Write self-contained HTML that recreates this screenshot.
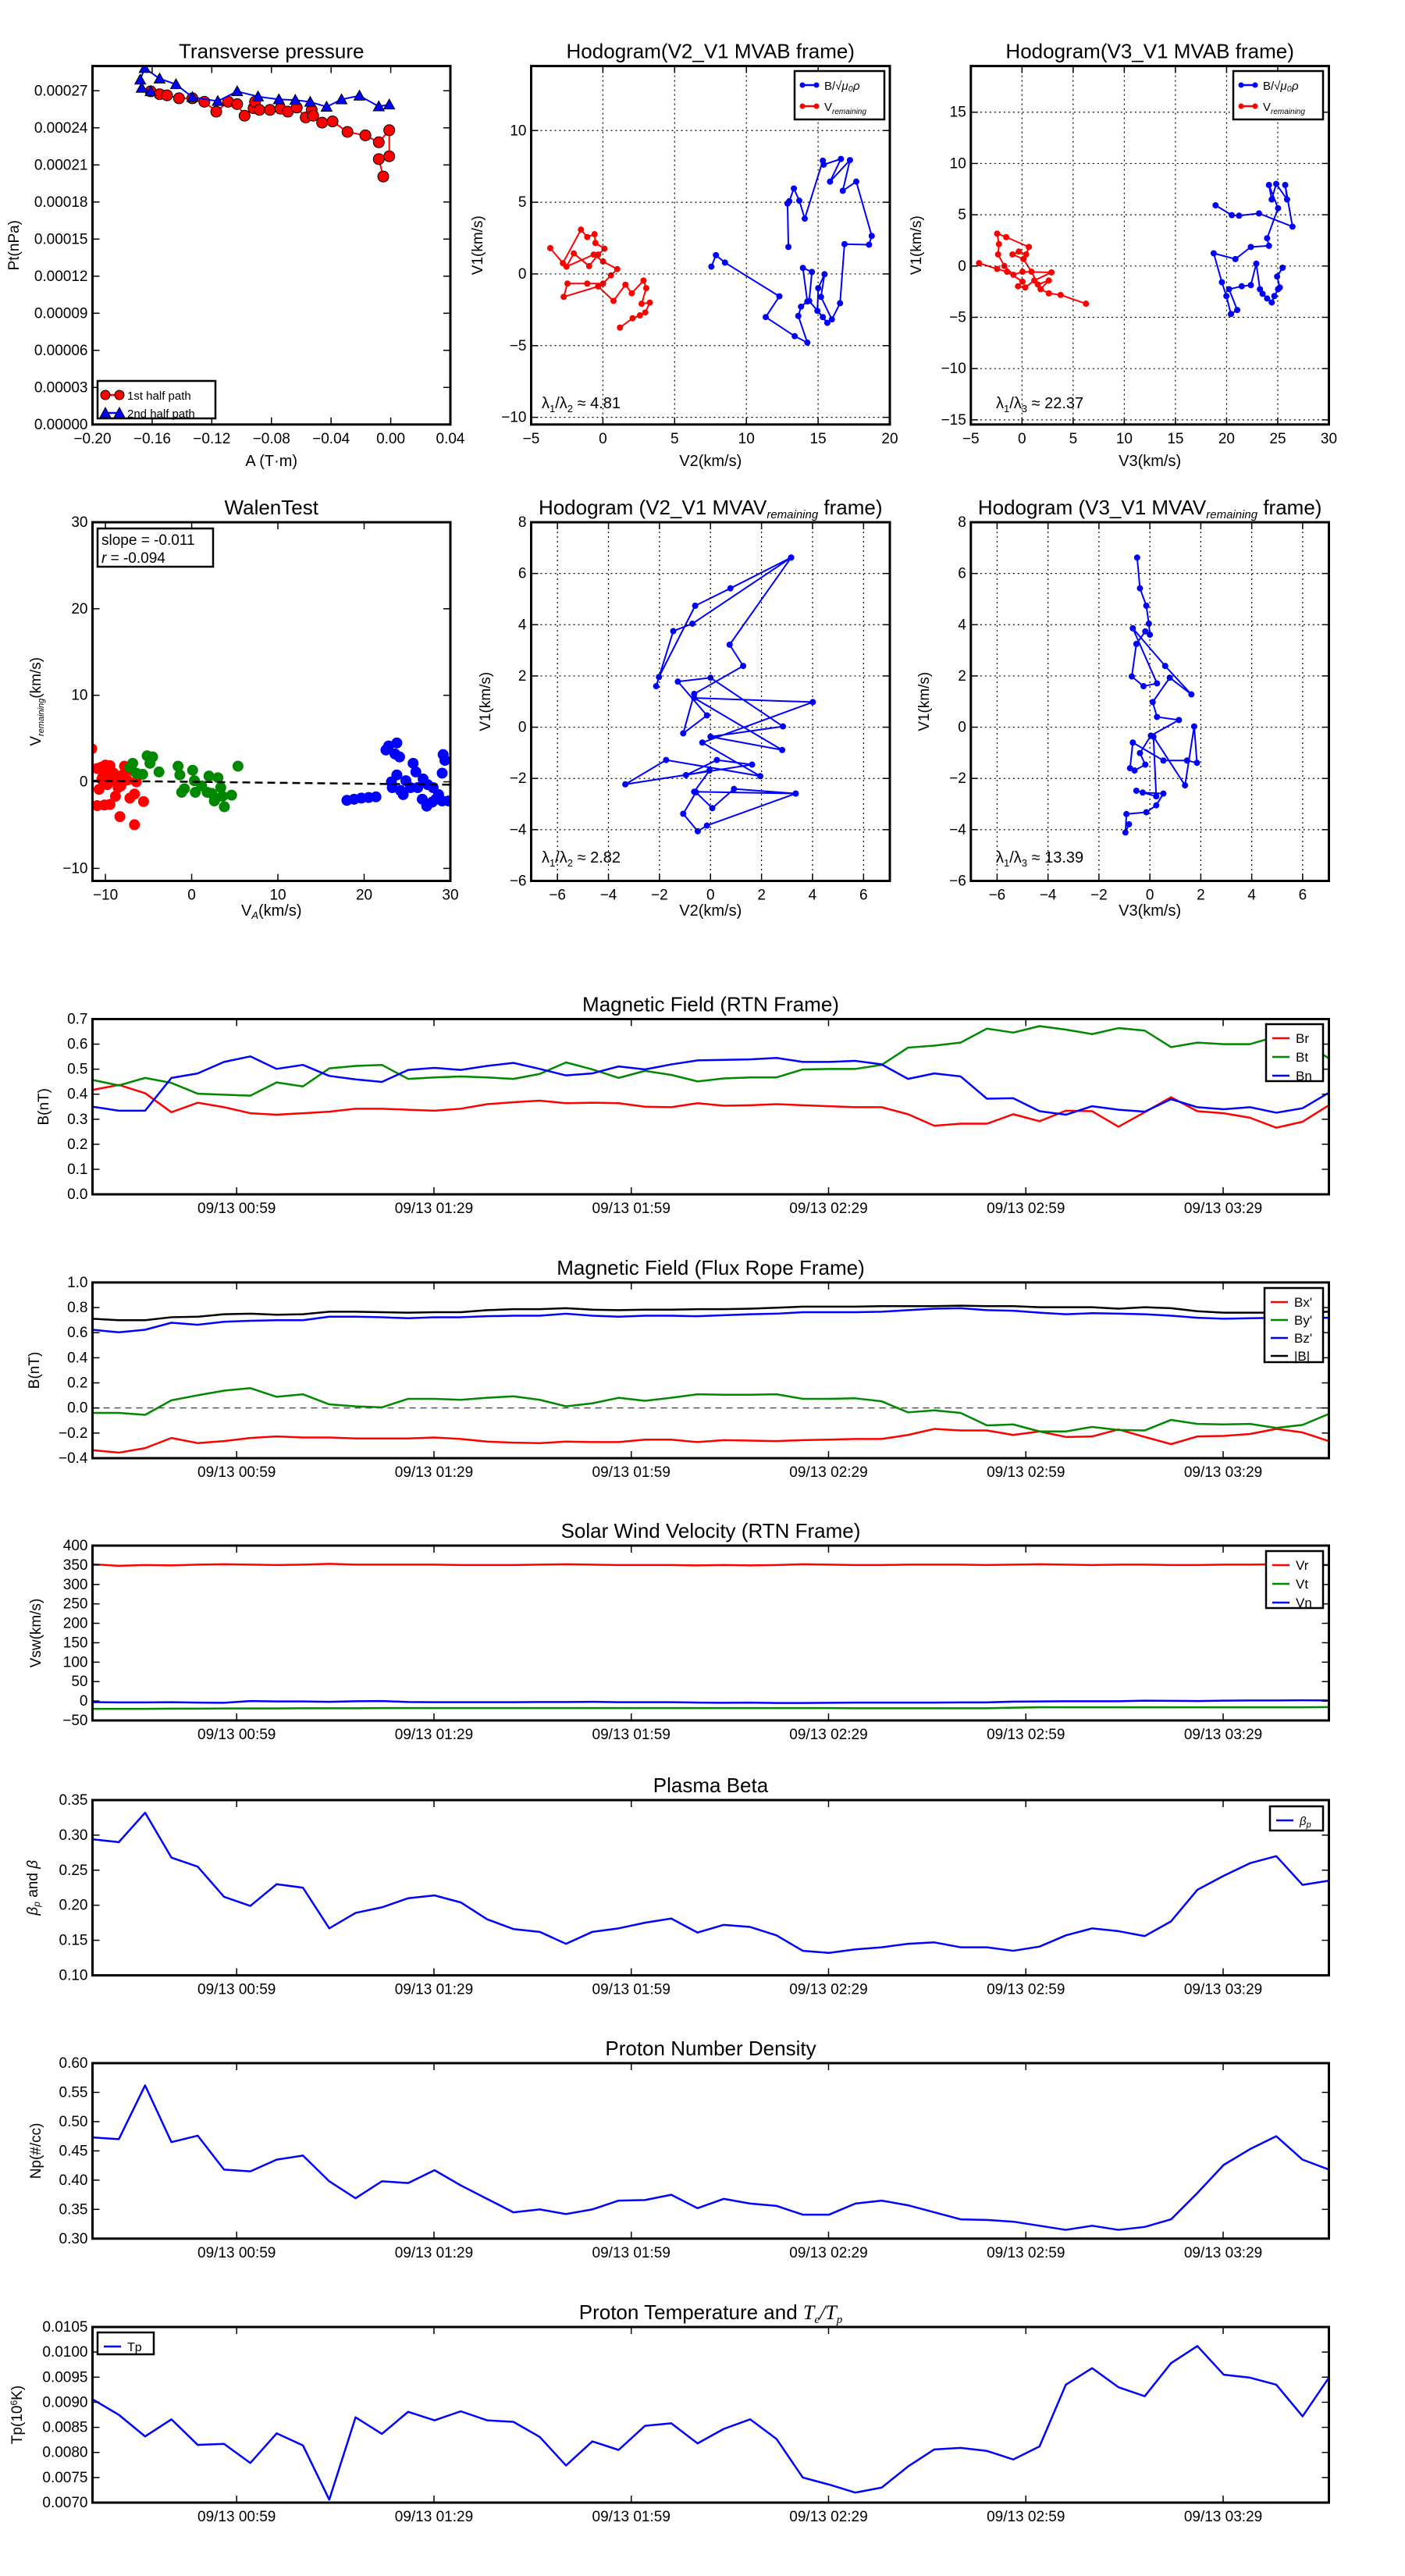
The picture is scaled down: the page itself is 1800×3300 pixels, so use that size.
<!DOCTYPE html>
<html><head><meta charset="utf-8">
<style>
html,body{margin:0;padding:0;background:#fff;}
svg{display:block;font-family:"Liberation Sans","DejaVu Sans",sans-serif;}
text{fill:#000;}
</style></head>
<body>
<svg id="fig" width="1800" height="3300" viewBox="0 0 1800 3300" xmlns="http://www.w3.org/2000/svg">
<rect x="0" y="0" width="1800" height="3300" fill="#fff"/>
</svg>
<script>
// ---------- data ----------
const timeTickLabels = ["09/13 00:59","09/13 01:29","09/13 01:59","09/13 02:29","09/13 02:59","09/13 03:29"];
const timeTickIdx = [5.48,12.98,20.48,27.98,35.48,42.98];

const br = [0.417,0.437,0.404,0.328,0.366,0.348,0.324,0.318,0.324,0.330,0.342,0.342,0.338,0.334,0.342,0.360,0.368,0.374,0.364,0.366,0.364,0.350,0.348,0.364,0.354,0.356,0.360,0.356,0.352,0.348,0.348,0.320,0.274,0.282,0.282,0.320,0.292,0.334,0.332,0.270,0.328,0.388,0.332,0.324,0.306,0.266,0.290,0.356];
const bt = [0.457,0.435,0.465,0.445,0.402,0.398,0.394,0.447,0.431,0.503,0.513,0.517,0.461,0.467,0.471,0.467,0.461,0.481,0.527,0.499,0.465,0.493,0.477,0.451,0.463,0.467,0.467,0.499,0.501,0.501,0.517,0.586,0.594,0.606,0.662,0.646,0.672,0.658,0.640,0.664,0.654,0.588,0.606,0.600,0.600,0.630,0.610,0.543];
const bn = [0.350,0.334,0.334,0.465,0.483,0.529,0.551,0.501,0.517,0.473,0.459,0.449,0.497,0.505,0.497,0.513,0.525,0.501,0.475,0.483,0.511,0.499,0.519,0.535,0.537,0.539,0.545,0.529,0.529,0.533,0.519,0.461,0.483,0.471,0.382,0.384,0.332,0.318,0.352,0.338,0.330,0.380,0.348,0.340,0.348,0.326,0.344,0.406];

const bxp = [-0.336,-0.356,-0.320,-0.239,-0.280,-0.264,-0.239,-0.227,-0.235,-0.235,-0.243,-0.243,-0.243,-0.235,-0.247,-0.268,-0.276,-0.280,-0.268,-0.272,-0.272,-0.252,-0.252,-0.272,-0.256,-0.260,-0.264,-0.256,-0.252,-0.247,-0.247,-0.215,-0.167,-0.179,-0.179,-0.215,-0.187,-0.231,-0.227,-0.171,-0.231,-0.288,-0.227,-0.223,-0.207,-0.167,-0.195,-0.264];
const byp = [-0.039,-0.039,-0.055,0.061,0.101,0.138,0.158,0.089,0.109,0.029,0.013,0.005,0.073,0.073,0.065,0.081,0.093,0.065,0.013,0.037,0.081,0.057,0.081,0.109,0.105,0.105,0.109,0.073,0.073,0.077,0.053,-0.035,-0.019,-0.039,-0.139,-0.131,-0.187,-0.187,-0.151,-0.175,-0.179,-0.095,-0.127,-0.131,-0.127,-0.159,-0.135,-0.047];
const bzp = [0.623,0.603,0.623,0.679,0.663,0.687,0.695,0.699,0.699,0.727,0.727,0.723,0.715,0.723,0.723,0.731,0.735,0.735,0.751,0.735,0.727,0.735,0.735,0.731,0.739,0.747,0.751,0.763,0.763,0.763,0.767,0.779,0.791,0.795,0.779,0.775,0.759,0.747,0.755,0.751,0.747,0.735,0.719,0.711,0.715,0.719,0.719,0.719];
const bmag = [0.711,0.699,0.699,0.723,0.727,0.747,0.751,0.743,0.747,0.767,0.767,0.763,0.759,0.763,0.763,0.779,0.787,0.787,0.795,0.783,0.779,0.783,0.783,0.787,0.787,0.791,0.799,0.807,0.807,0.807,0.811,0.811,0.811,0.815,0.811,0.811,0.803,0.803,0.803,0.791,0.803,0.795,0.771,0.759,0.759,0.759,0.759,0.767];

const vr = [352,348,350,349,351,352,351,350,351,353,351,351,351,351,350,350,350,351,352,351,350,350,350,349,350,349,350,352,351,350,350,351,351,351,350,351,352,351,350,351,351,350,350,351,351,352,351,350];
const vt = [-20,-20,-20,-19.5,-19.5,-19,-19,-19,-18.5,-18.5,-18.5,-18,-18,-18,-18,-18,-18,-18,-18,-18,-18,-18,-18,-18,-18,-18,-18,-18,-18,-18.5,-18.5,-18.5,-18.5,-18.5,-18.5,-17,-16,-16,-16,-16,-16,-16,-16,-16,-16,-16,-16,-15.5];
const vn = [-3,-3.5,-3.5,-3,-4,-4.5,0,-1,-1,-2,-0.5,0,-2.5,-3,-3,-3,-3,-2.5,-2.5,-2,-3,-3,-3,-4,-4.5,-4,-5,-5,-4.5,-4,-4,-4,-4,-3.5,-3.5,-1.5,-1,-0.5,-0.5,-0.5,1,0.5,0,1,1.5,1.5,2,1.5];

const betaP = [0.294,0.290,0.332,0.268,0.255,0.212,0.199,0.230,0.225,0.167,0.189,0.197,0.210,0.214,0.204,0.180,0.166,0.162,0.145,0.162,0.167,0.175,0.181,0.161,0.172,0.169,0.157,0.135,0.132,0.137,0.140,0.145,0.147,0.140,0.140,0.135,0.141,0.157,0.167,0.163,0.156,0.177,0.222,0.242,0.260,0.270,0.229,0.235];
const np = [0.473,0.470,0.562,0.465,0.476,0.418,0.415,0.435,0.442,0.398,0.369,0.398,0.395,0.417,0.391,0.368,0.345,0.350,0.342,0.350,0.365,0.366,0.375,0.352,0.368,0.360,0.356,0.341,0.341,0.360,0.365,0.357,0.345,0.333,0.332,0.329,0.322,0.315,0.322,0.315,0.320,0.333,0.378,0.426,0.453,0.475,0.435,0.418];
const tp = [0.00906,0.00875,0.00832,0.00866,0.00815,0.00817,0.00779,0.00838,0.00814,0.00706,0.00870,0.00837,0.00881,0.00864,0.00882,0.00864,0.00861,0.00831,0.00774,0.00822,0.00805,0.00853,0.00858,0.00818,0.00847,0.00866,0.00827,0.00750,0.00736,0.00720,0.00730,0.00772,0.00806,0.00809,0.00803,0.00786,0.00812,0.00935,0.00968,0.00930,0.00912,0.00978,0.01012,0.00955,0.00949,0.00935,0.00872,0.00949];

// Transverse pressure
const ptA1 = [-0.161,-0.155,-0.150,-0.142,-0.133,-0.125,-0.117,-0.109,-0.103,-0.098,-0.092,-0.091,-0.088,-0.081,-0.074,-0.069,-0.063,-0.057,-0.053,-0.052,-0.046,-0.039,-0.029,-0.017,-0.008,-0.001,-0.001,-0.008,-0.005];
const ptP1 = [0.0002695,0.0002672,0.0002663,0.0002639,0.0002639,0.0002611,0.0002531,0.0002611,0.0002592,0.0002498,0.0002559,0.0002611,0.0002545,0.0002545,0.0002555,0.0002531,0.0002564,0.0002484,0.0002545,0.0002498,0.0002442,0.0002452,0.0002367,0.0002339,0.0002283,0.0002381,0.0002170,0.0002147,0.0002006];
const ptA2 = [-0.001,-0.008,-0.021,-0.033,-0.043,-0.054,-0.064,-0.075,-0.089,-0.103,-0.116,-0.133,-0.144,-0.155,-0.165,-0.168,-0.167,-0.161];
const ptP2 = [0.0002588,0.0002573,0.000266,0.000263,0.000257,0.000261,0.0002625,0.000263,0.0002653,0.0002695,0.0002616,0.0002648,0.0002752,0.0002798,0.0002883,0.0002789,0.0002723,0.0002695];

// Hodogram V2_V1 MVAB
const h1bV2 = [7.56,7.88,8.51,12.30,11.35,13.37,14.25,13.62,13.81,14.25,13.94,14.57,14.38,15.33,15.64,14.95,15.01,15.45,15.20,15.96,16.53,16.84,18.55,18.74,17.66,16.72,17.22,15.83,16.59,15.39,15.33,14.07,13.69,13.31,12.99,12.87,12.93];
const h1bV1 = [0.51,1.31,0.79,-1.56,-3.01,-4.34,-4.79,-2.93,-2.28,-1.92,0.42,0.14,-1.88,-3.01,-3.41,-2.57,-0.99,-0.02,-1.60,-3.17,-2.04,2.08,2.04,2.65,6.44,5.80,7.94,6.44,8.02,7.62,7.90,3.86,5.11,5.96,5.07,4.91,1.88];
const h1rV2 = [-3.67,-2.79,-1.53,-1.09,-0.58,-0.52,0.11,-0.33,-0.96,-2.03,-2.54,-0.64,0.01,1.00,0.56,0.01,-1.09,-2.47,-2.73,-0.33,0.74,1.57,2.01,2.83,3.02,2.70,3.27,2.95,2.58,2.07,1.19];
const h1rV1 = [1.80,0.75,3.09,2.57,2.77,2.16,1.76,1.35,0.55,1.43,0.51,1.35,0.87,0.34,-0.10,-0.67,-0.67,-0.67,-1.60,-0.87,-1.88,-0.75,-1.35,-0.46,-0.99,-2.08,-2.00,-2.69,-2.89,-3.09,-3.74];

// Hodogram V3_V1 MVAB
const h2bV3 = [18.92,20.51,21.22,23.17,26.44,25.73,25.91,24.85,24.41,24.14,25.03,23.96,24.14,22.37,20.86,18.74,19.54,19.98,20.42,21.04,20.24,21.48,22.37,22.90,23.26,23.52,23.96,24.41,24.67,25.03,25.20,24.94,25.47];
const h2bV1 = [5.92,4.96,4.91,5.13,3.84,7.90,6.49,8.01,6.49,7.90,5.64,2.71,1.97,1.86,0.68,1.24,-1.58,-2.93,-4.68,-4.29,-2.26,-1.97,-1.86,0.23,-2.26,-2.71,-3.16,-3.55,-2.93,-2.26,-2.09,-1.02,-0.17];
const h2rV3 = [-4.20,-2.43,-1.46,0.05,-0.39,0.31,1.20,2.88,0.05,-0.84,-1.72,-2.34,-2.25,-2.43,-1.55,0.67,0.40,-0.31,-0.93,0.14,0.93,1.55,2.62,1.82,2.62,3.77,6.25];
const h2rV1 = [0.28,-0.28,-0.56,-1.52,-1.97,-2.09,-1.41,-0.62,-0.56,-0.85,0.00,1.13,2.14,3.16,2.82,1.86,1.13,1.41,1.13,0.68,-0.56,-1.80,-1.41,-2.26,-2.66,-2.82,-3.67];

// Walen test
const walRedVA = [-11.58,-10.95,-10.53,-10.0,-9.47,-9.05,-10.74,-10.42,-9.79,-9.58,-8.74,-8.21,-10.95,-10.11,-9.47,-8.84,-8.32,-8.0,-7.47,-7.16,-6.63,-6.63,-6.42,-5.58,-6.95,-7.79,-10.32,-9.16,-8.53,-9.89];
const walRedV = [3.82,1.54,1.67,1.94,1.87,1.00,-0.87,0.27,-0.33,0.67,0.67,-0.47,-2.75,-2.68,-2.61,-1.67,-4.02,0.80,0.20,-1.88,-1.41,-4.96,0.0,-2.28,1.34,1.81,0.54,0.13,-0.67,1.34];
const walGreenVA = [-7.16,-6.42,-5.68,-5.16,-4.53,-4.84,-3.79,-6.84,-1.58,-1.37,-1.16,0.11,0.32,1.16,2.0,2.32,2.63,3.05,3.37,3.79,3.58,4.63,5.37,0.42,-0.84,1.79,2.84];
const walGreenV = [1.67,1.0,0.87,3.01,2.88,2.14,1.14,2.14,1.81,0.80,-1.21,1.34,0.13,-0.47,0.67,-1.34,-2.21,0.47,-0.67,-2.88,-1.67,-1.54,1.81,-1.21,-0.80,-1.21,-1.88];
const walBlueVA = [18.0,18.84,19.68,20.53,21.37,22.84,23.79,23.58,24.11,22.53,23.16,23.79,24.21,24.84,25.68,26.21,26.74,27.26,27.89,28.32,29.05,29.79,29.16,29.37,29.05,26.84,27.37,28.0,28.63,25.37,24.53,23.26,26.0];
const walBlueV = [-2.14,-2.01,-1.88,-1.81,-1.74,4.15,4.49,3.22,2.88,3.68,0.0,0.80,-1.0,0.13,2.14,-0.67,-2.01,-2.81,-2.34,-2.01,-2.21,-2.21,3.15,2.48,1.0,0.33,-0.33,-0.67,-1.47,-0.67,-1.47,-0.67,1.14];
const walenSlope = -0.011;
const walenIntercept = 0.0;

// Hodogram V2_V1 MVAV remaining
const h3V2 = [3.16,-0.71,-1.46,-2.13,-2.02,-0.60,0.78,3.16,0.75,1.28,-0.64,-1.07,-0.14,-1.28,0,2.84,0,2.81,-0.64,4.01,-0.32,1.95,-1.74,-3.34,1.63,0.25,-0.96,-0.04,-0.64,3.34,0.92,0.07,-0.57,-1.07,-0.50,-0.14,3.34];
const h3V1 = [6.62,4.04,3.75,1.60,1.96,4.74,5.42,6.62,3.22,2.39,1.30,-0.24,0.46,1.78,1.93,0.03,-0.37,-0.89,1.14,0.98,-0.60,-1.91,-1.28,-2.23,-1.46,-1.28,-1.87,-1.69,-2.52,-2.59,-2.41,-3.16,-2.54,-3.38,-4.06,-3.84,-2.59];
// Hodogram V3_V1 MVAV remaining
const h4V3 = [-0.50,-0.39,-0.14,-0.04,0,-0.18,-0.53,-0.71,-0.25,0.28,-0.67,0.60,1.63,0.78,0.11,0.28,1.14,0.04,-0.39,-0.18,-0.60,-0.78,-0.67,0.53,1.46,1.85,1.74,1.38,0.14,0.25,-0.53,-0.28,0.53,0.25,-0.14,-0.92,-0.96,-0.82];
const h4V1 = [6.62,5.42,4.74,4.04,3.61,3.74,3.25,1.98,1.60,1.71,3.86,2.39,1.28,1.93,0.98,0.40,0.28,-0.33,-1.01,-1.46,-1.69,-1.60,-0.60,-1.30,-1.30,-1.39,0.03,-2.27,-0.37,-2.70,-2.48,-2.55,-2.59,-3.05,-3.32,-3.39,-4.11,-3.79];

// ---------- helpers ----------
const NS='http://www.w3.org/2000/svg';
const svg=document.getElementById('fig');
let clipId=0;
function mk(tag,attrs,parent){const e=document.createElementNS(NS,tag);for(const k in attrs)e.setAttribute(k,attrs[k]);(parent||svg).appendChild(e);return e;}
function txt(s,x,y,size,anchor,parent,extra){const t=mk('text',Object.assign({x:x,y:y,'font-size':size,'text-anchor':anchor||'middle'},extra||{}),parent);t.innerHTML=s;return t;}

function axes(name,box,xlim,ylim,o){
  const g=mk('g',{});
  
  
  const sx=v=>box.x0+(v-xlim[0])/(xlim[1]-xlim[0])*(box.x1-box.x0);
  const sy=v=>box.y1-(v-ylim[0])/(ylim[1]-ylim[0])*(box.y1-box.y0);
  const id='c'+(clipId++);
  const cp=mk('clipPath',{id:id},g);
  mk('rect',{x:box.x0,y:box.y0,width:box.x1-box.x0,height:box.y1-box.y0},cp);
  const plot=mk('g',{'clip-path':'url(#'+id+')'},g);
  const xs=o.xticks.map(o.xpos||sx), ys=o.yticks.map(sy);
  if(o.grid){
    xs.forEach(x=>mk('line',{x1:x,x2:x,y1:box.y0,y2:box.y1,stroke:'#000','stroke-width':1.2,'stroke-dasharray':'2,4'},g));
    ys.forEach(y=>mk('line',{x1:box.x0,x2:box.x1,y1:y,y2:y,stroke:'#000','stroke-width':1.2,'stroke-dasharray':'2,4'},g));
  }
  const tk=mk('g',{stroke:'#000','stroke-width':1.5},g);
  xs.forEach((x,i)=>{
    mk('line',{x1:x,x2:x,y1:box.y1,y2:box.y1-9},tk);
    mk('line',{x1:x,x2:x,y1:box.y0,y2:box.y0+9},tk);
    const t=txt(o.xlabels[i],x,box.y1+24,o.fs||19,'middle',g);
    
    
  });
  ys.forEach((y,i)=>{
    mk('line',{x1:box.x0,x2:box.x0+9,y1:y,y2:y},tk);
    mk('line',{x1:box.x1,x2:box.x1-9,y1:y,y2:y},tk);
    const t=txt(o.ylabels[i],box.x0-6,y+6,o.fs||19,'end',g);
    
    
  });
  mk('rect',{x:box.x0,y:box.y0,width:box.x1-box.x0,height:box.y1-box.y0,fill:'none',stroke:'#000','stroke-width':3},g);
  const tt=txt(o.title,(box.x0+box.x1)/2,box.y0-10,26,'middle',g);
  
  
  if(o.xlabel){const t=txt(o.xlabel,(box.x0+box.x1)/2,o.xlabelY||box.y1+55,20,'middle',g);
    
    }
  if(o.ylabel){const yc=(box.y0+box.y1)/2;const t=txt(o.ylabel,o.ylabelX,yc,19,'middle',g,{transform:'rotate(-90 '+o.ylabelX+' '+yc+')'});
    
    }
  return {sx,sy,g,plot};
}
function poly(ax,xs,ys,color,w,name){
  const p=mk('polyline',{points:xs.map((x,i)=>ax.sx(x)+','+ax.sy(ys[i])).join(' '),fill:'none',stroke:color,'stroke-width':w||2.5,'stroke-linejoin':'round'},ax.plot);
  
  
  return p;
}
function dots(ax,xs,ys,color,r,name){
  const g=mk('g',{fill:color},ax.plot);
  
  
  xs.forEach((x,i)=>mk('circle',{cx:ax.sx(x),cy:ax.sy(ys[i]),r:r},g));
}
function tris(ax,xs,ys,color,s,name){
  const g=mk('g',{fill:color,stroke:'#000','stroke-width':1},ax.plot);
  
  
  xs.forEach((x,i)=>{const cx=ax.sx(x),cy=ax.sy(ys[i]);mk('polygon',{points:`${cx},${cy-s} ${cx-s},${cy+s*0.8} ${cx+s},${cy+s*0.8}`},g);});
}
function legend(x,y,w,h,items,name){
  const g=mk('g',{});
  
  
  mk('rect',{x:x,y:y,width:w,height:h,fill:'#fff',stroke:'#000','stroke-width':2.5},g);
  items.forEach((it,i)=>{
    const yy=y+18+i*it.dy;
    mk('line',{x1:x+8,x2:x+30,y1:yy,y2:yy,stroke:it.c,'stroke-width':2.5},g);
    if(it.m==='o'){mk('circle',{cx:x+10,cy:yy,r:it.r||6,fill:it.c,stroke:'#000'},g);mk('circle',{cx:x+28,cy:yy,r:it.r||6,fill:it.c,stroke:'#000'},g);}
    if(it.m==='.'){mk('circle',{cx:x+10,cy:yy,r:3.5,fill:it.c},g);mk('circle',{cx:x+28,cy:yy,r:3.5,fill:it.c},g);}
    if(it.m==='^'){[x+10,x+28].forEach(cx=>mk('polygon',{points:`${cx},${yy-7} ${cx-7},${yy+6} ${cx+7},${yy+6}`,fill:it.c,stroke:'#000'},g));}
    const t=txt(it.t,x+38,yy+6,it.fs||17,'start',g);
    
    
  });
}
function range(a,b,s){const r=[];for(let v=a;v<=b+1e-9;v+=s)r.push(+v.toFixed(8));return r;}
const fmt=(d)=>v=>(v<0?'\u2212':'')+Math.abs(v).toFixed(d);

// ---------- Row 1 ----------
const C1={x0:118.5,x1:577},C2={x0:680.5,x1:1140},C3={x0:1243.8,x1:1702.5};
const R1={y0:84.6,y1:543.8},R2={y0:669,y1:1128.5};

let xt=range(-0.20,0.04,0.04), yt=range(0,0.00027,0.00003);
const a1=axes('transverse-pressure-chart',{...C1,...R1},[-0.20,0.04],[0,0.00029],{xticks:xt,xlabels:xt.map(fmt(2)),yticks:yt,ylabels:yt.map(fmt(5)),title:'Transverse pressure',xlabel:'A (T·m)',ylabel:'Pt(nPa)',ylabelX:24,xlabelY:597});
poly(a1,ptA1,ptP1,'#f00',2,'first-half-path-line');
dots(a1,ptA1,ptP1,'#f00',7,'first-half-path-points');
a1.plot.lastChild.setAttribute('stroke','#000');
poly(a1,ptA2,ptP2,'#00f',2,'second-half-path-line');
tris(a1,ptA2,ptP2,'#00f',7,'second-half-path-points');
legend(125,488,151,48,[{c:'#f00',m:'o',t:'1st half path',dy:23,fs:15},{c:'#00f',m:'^',t:'2nd half path',dy:23,fs:15}],'pressure-legend');

xt=range(-5,20,5); yt=range(-10,10,5);
const a2=axes('hodogram-v2-v1-mvab',{...C2,...R1},[-5,20],[-10.5,14.5],{grid:true,xticks:xt,xlabels:xt.map(fmt(0)),yticks:yt,ylabels:yt.map(fmt(0)),title:'Hodogram(V2_V1 MVAB frame)',xlabel:'V2(km/s)',ylabel:'V1(km/s)',ylabelX:618,xlabelY:597});
poly(a2,h1bV2,h1bV1,'#00f',2,'b-alfven-path');dots(a2,h1bV2,h1bV1,'#00f',4,'b-alfven-points');
poly(a2,h1rV2,h1rV1,'#f00',2,'v-remaining-path');dots(a2,h1rV2,h1rV1,'#f00',4,'v-remaining-points');
legend(1018,91,115,62,[{c:'#00f',m:'.',t:'B/√<tspan font-style="italic">μ₀ρ</tspan>',dy:27,fs:15},{c:'#f00',m:'.',t:'V<tspan font-size="10" dy="4" font-style="italic">remaining</tspan>',dy:27,fs:15}],'hodogram1-legend');
let t=txt('λ<tspan font-size="13" dy="5">1</tspan><tspan dy="-5">/λ</tspan><tspan font-size="13" dy="5">2</tspan><tspan dy="-5"> ≈ 4.81</tspan>',694,523,20,'start');



xt=range(-5,30,5); yt=range(-15,15,5);
const a3=axes('hodogram-v3-v1-mvab',{...C3,...R1},[-5,30],[-15.45,19.5],{grid:true,xticks:xt,xlabels:xt.map(fmt(0)),yticks:yt,ylabels:yt.map(fmt(0)),title:'Hodogram(V3_V1 MVAB frame)',xlabel:'V3(km/s)',ylabel:'V1(km/s)',ylabelX:1180,xlabelY:597});
poly(a3,h2bV3,h2bV1,'#00f',2,'b-alfven-path');dots(a3,h2bV3,h2bV1,'#00f',4,'b-alfven-points');
poly(a3,h2rV3,h2rV1,'#f00',2,'v-remaining-path');dots(a3,h2rV3,h2rV1,'#f00',4,'v-remaining-points');
legend(1580,91,115,62,[{c:'#00f',m:'.',t:'B/√<tspan font-style="italic">μ₀ρ</tspan>',dy:27,fs:15},{c:'#f00',m:'.',t:'V<tspan font-size="10" dy="4" font-style="italic">remaining</tspan>',dy:27,fs:15}],'hodogram2-legend');
t=txt('λ<tspan font-size="13" dy="5">1</tspan><tspan dy="-5">/λ</tspan><tspan font-size="13" dy="5">3</tspan><tspan dy="-5"> ≈ 22.37</tspan>',1276,523,20,'start');



// ---------- Row 2 ----------
xt=range(-10,30,10); yt=range(-10,30,10);
const a4=axes('walen-test-chart',{...C1,...R2},[-11.5,30],[-11.45,30],{xticks:xt,xlabels:xt.map(fmt(0)),yticks:yt,ylabels:yt.map(fmt(0)),title:'WalenTest',xlabel:'V<tspan font-size="13" dy="4" font-style="italic">A</tspan><tspan dy="-4">(km/s)</tspan>',ylabel:'V<tspan font-size="11" dy="4" font-style="italic">remaining</tspan><tspan dy="-4">(km/s)</tspan>',ylabelX:52,xlabelY:1173});
dots(a4,walRedVA,walRedV,'#f00',7,'walen-red-points');
dots(a4,walGreenVA,walGreenV,'#080',7,'walen-green-points');
dots(a4,walBlueVA,walBlueV,'#00f',7,'walen-blue-points');
const fitX=[-11.5,30];
const fl=mk('line',{x1:a4.sx(fitX[0]),y1:a4.sy(walenIntercept+walenSlope*fitX[0]),x2:a4.sx(fitX[1]),y2:a4.sy(walenIntercept+walenSlope*fitX[1]),stroke:'#000','stroke-width':2.5,'stroke-dasharray':'10,6'},a4.plot);


(function(){const g=mk('g',{});


mk('rect',{x:125,y:677,width:148,height:49,fill:'#fff',stroke:'#000','stroke-width':2.5},g);
txt('slope = -0.011',130,698,19,'start',g);txt('<tspan font-style="italic">r</tspan> = -0.094',130,721,19,'start',g);})();

xt=range(-6,6,2); yt=range(-6,8,2);
const a5=axes('hodogram-v2-v1-mvav',{...C2,...R2},[-7.03,7.03],[-6,8],{grid:true,xticks:xt,xlabels:xt.map(fmt(0)),yticks:yt,ylabels:yt.map(fmt(0)),title:'Hodogram (V2_V1 MVAV<tspan font-size="15" dy="5" font-style="italic">remaining</tspan><tspan dy="-5"> frame)</tspan>',xlabel:'V2(km/s)',ylabel:'V1(km/s)',ylabelX:628,xlabelY:1173});
poly(a5,h3V2,h3V1,'#00f',2,'hodogram3-path');dots(a5,h3V2,h3V1,'#00f',4,'hodogram3-points');
t=txt('λ<tspan font-size="13" dy="5">1</tspan><tspan dy="-5">/λ</tspan><tspan font-size="13" dy="5">2</tspan><tspan dy="-5"> ≈ 2.82</tspan>',694,1105,20,'start');



const a6=axes('hodogram-v3-v1-mvav',{...C3,...R2},[-7.03,7.03],[-6,8],{grid:true,xticks:xt,xlabels:xt.map(fmt(0)),yticks:yt,ylabels:yt.map(fmt(0)),title:'Hodogram (V3_V1 MVAV<tspan font-size="15" dy="5" font-style="italic">remaining</tspan><tspan dy="-5"> frame)</tspan>',xlabel:'V3(km/s)',ylabel:'V1(km/s)',ylabelX:1190,xlabelY:1173});
poly(a6,h4V3,h4V1,'#00f',2,'hodogram4-path');dots(a6,h4V3,h4V1,'#00f',4,'hodogram4-points');
t=txt('λ<tspan font-size="13" dy="5">1</tspan><tspan dy="-5">/λ</tspan><tspan font-size="13" dy="5">3</tspan><tspan dy="-5"> ≈ 13.39</tspan>',1276,1105,20,'start');



// ---------- time series ----------
const TX={x0:118.5,x1:1702.5};
const idx=betaP.map((_,i)=>i);
function tsAxes(name,y0,y1,ylim,yt,yl,title,ylabel,ylx){
  return axes(name,{...TX,y0:y0,y1:y1},[0,47],ylim,{xticks:timeTickIdx,xlabels:timeTickLabels,yticks:yt,ylabels:yl,title:title,ylabel:ylabel,ylabelX:ylx});
}
yt=range(0,0.7,0.1);
const b1=tsAxes('magnetic-field-rtn-chart',1305.5,1530,[0,0.7],yt,yt.map(fmt(1)),'Magnetic Field (RTN Frame)','B(nT)',62);
poly(b1,idx,br,'#f00',2.5,'br-line');poly(b1,idx,bt,'#080',2.5,'bt-line');poly(b1,idx,bn,'#00f',2.5,'bn-line');
legend(1622,1312,73,73,[{c:'#f00',t:'Br',dy:24},{c:'#080',t:'Bt',dy:24},{c:'#00f',t:'Bn',dy:24}],'rtn-legend');

yt=range(-0.4,1.0,0.2);
const b2=tsAxes('magnetic-field-flux-rope-chart',1642.9,1868,[-0.4,1.0],yt,yt.map(fmt(1)),'Magnetic Field (Flux Rope Frame)','B(nT)',50);
const zl=mk('line',{x1:b2.sx(0),x2:b2.sx(47),y1:b2.sy(0),y2:b2.sy(0),stroke:'#555','stroke-width':1.5,'stroke-dasharray':'8,6'},b2.plot);


poly(b2,idx,bxp,'#f00',2.5,'bx-prime-line');poly(b2,idx,byp,'#080',2.5,'by-prime-line');poly(b2,idx,bzp,'#00f',2.5,'bz-prime-line');poly(b2,idx,bmag,'#000',2.5,'b-magnitude-line');
legend(1620,1650,75,95,[{c:'#f00',t:"Bx'",dy:23},{c:'#080',t:"By'",dy:23},{c:'#00f',t:"Bz'",dy:23},{c:'#000',t:'|B|',dy:23}],'flux-rope-legend');

yt=range(-50,400,50);
const b3=tsAxes('solar-wind-velocity-chart',1980,2204,[-50,400],yt,yt.map(fmt(0)),'Solar Wind Velocity (RTN Frame)','Vsw(km/s)',52);
poly(b3,idx,vr,'#f00',2.5,'vr-line');poly(b3,idx,vt,'#080',2.5,'vt-line');poly(b3,idx,vn,'#00f',2.5,'vn-line');
legend(1622,1987,73,73,[{c:'#f00',t:'Vr',dy:24},{c:'#080',t:'Vt',dy:24},{c:'#00f',t:'Vn',dy:24}],'velocity-legend');

yt=range(0.10,0.35,0.05);
const b4=tsAxes('plasma-beta-chart',2306,2530.5,[0.10,0.35],yt,yt.map(fmt(2)),'Plasma Beta','<tspan font-style="italic">β<tspan font-size="12" dy="3">p</tspan></tspan><tspan dy="-3"> and </tspan><tspan font-style="italic">β</tspan>',48);
poly(b4,idx,betaP,'#00f',2.5,'beta-p-line');
legend(1627,2314,68,31,[{c:'#00f',t:'<tspan font-style="italic">β<tspan font-size="11" dy="3">p</tspan></tspan>',dy:0,fs:15}],'beta-legend');

yt=range(0.30,0.60,0.05);
const b5=tsAxes('proton-density-chart',2643,2867.8,[0.30,0.60],yt,yt.map(fmt(2)),'Proton Number Density','Np(#/cc)',52);
poly(b5,idx,np,'#00f',2.5,'np-line');

yt=range(0.0070,0.0105,0.0005);
const b6=tsAxes('proton-temperature-chart',2981,3206,[0.0070,0.0105],yt,yt.map(fmt(4)),'Proton Temperature and <tspan font-family="Liberation Serif" font-style="italic">T<tspan font-size="15" dy="5">e</tspan><tspan dy="-5">/T</tspan><tspan font-size="15" dy="5">p</tspan></tspan>','Tp(10<tspan font-size="12" dy="-6">6</tspan><tspan dy="6">K)</tspan>',28);
poly(b6,idx,tp,'#00f',2.5,'tp-line');
legend(125,2988,72,28,[{c:'#00f',t:'Tp',dy:0,fs:16}],'tp-legend');
</script>
</body></html>
